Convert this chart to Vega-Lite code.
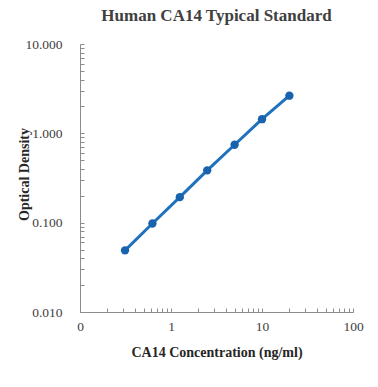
{
  "$schema": "https://vega.github.io/schema/vega-lite/v6.json",
  "width": 273,
  "height": 268,
  "autosize": {"type": "none"},
  "padding": {"left": 80, "top": 44, "right": 25, "bottom": 75},
  "background": "white",
  "title": {
    "text": "Human CA14 Typical Standard",
    "font": "Liberation Serif",
    "fontSize": 17,
    "fontWeight": "bold",
    "color": "#404040",
    "anchor": "middle",
    "offset": 12
  },
  "config": {
    "view": {"stroke": null},
    "axis": {
      "grid": false,
      "domainColor": "#8c8c8c",
      "tickColor": "#8c8c8c",
      "labelFont": "Liberation Serif",
      "labelFontSize": 13.5,
      "labelColor": "#404040",
      "titleFont": "Liberation Serif",
      "titleFontSize": 14,
      "titleFontWeight": "bold",
      "titleColor": "#262626",
      "labelOverlap": false,
      "labelBound": false,
      "labelFlush": false
    }
  },
  "data": {
    "values": [
      {"conc": 0.3125, "od": 0.049},
      {"conc": 0.625, "od": 0.098},
      {"conc": 1.25, "od": 0.193},
      {"conc": 2.5, "od": 0.385},
      {"conc": 5, "od": 0.745},
      {"conc": 10, "od": 1.44},
      {"conc": 20, "od": 2.64}
    ]
  },
  "encoding": {
    "x": {
      "field": "conc",
      "type": "quantitative",
      "scale": {"type": "log", "domain": [0.1, 100], "nice": false},
      "axis": {
        "title": "CA14 Concentration (ng/ml)",
        "values": [0.1,0.2,0.3,0.4,0.5,0.6,0.7,0.8,0.9,1,2,3,4,5,6,7,8,9,10,20,30,40,50,60,70,80,90,100],
        "labelExpr": "datum.value == 0.1 ? '0' : (abs(log(datum.value)/log(10) - round(log(datum.value)/log(10))) < 1e-6 ? format(datum.value, 'd') : '')",
        "tickSize": -4,
        "labelPadding": 11,
        "titleY": 40,
        "titleBaseline": "middle"
      }
    },
    "y": {
      "field": "od",
      "type": "quantitative",
      "scale": {"type": "log", "domain": [0.01, 10], "nice": false},
      "axis": {
        "title": "Optical Density",
        "values": [0.01,0.02,0.03,0.04,0.05,0.06,0.07,0.08,0.09,0.1,0.2,0.3,0.4,0.5,0.6,0.7,0.8,0.9,1,2,3,4,5,6,7,8,9,10],
        "labelExpr": "abs(log(datum.value)/log(10) - round(log(datum.value)/log(10))) < 1e-6 ? format(datum.value, '.3f') : ''",
        "tickSize": -4,
        "labelPadding": 22,
        "titleX": -56,
        "titleY": 130,
        "titleAlign": "center",
        "titleBaseline": "middle"
      }
    }
  },
  "layer": [
    {
      "mark": {"type": "line", "color": "#1f72bb", "strokeWidth": 3}
    },
    {
      "mark": {"type": "point", "filled": true, "color": "#1763ad", "opacity": 1, "size": 70}
    }
  ]
}
